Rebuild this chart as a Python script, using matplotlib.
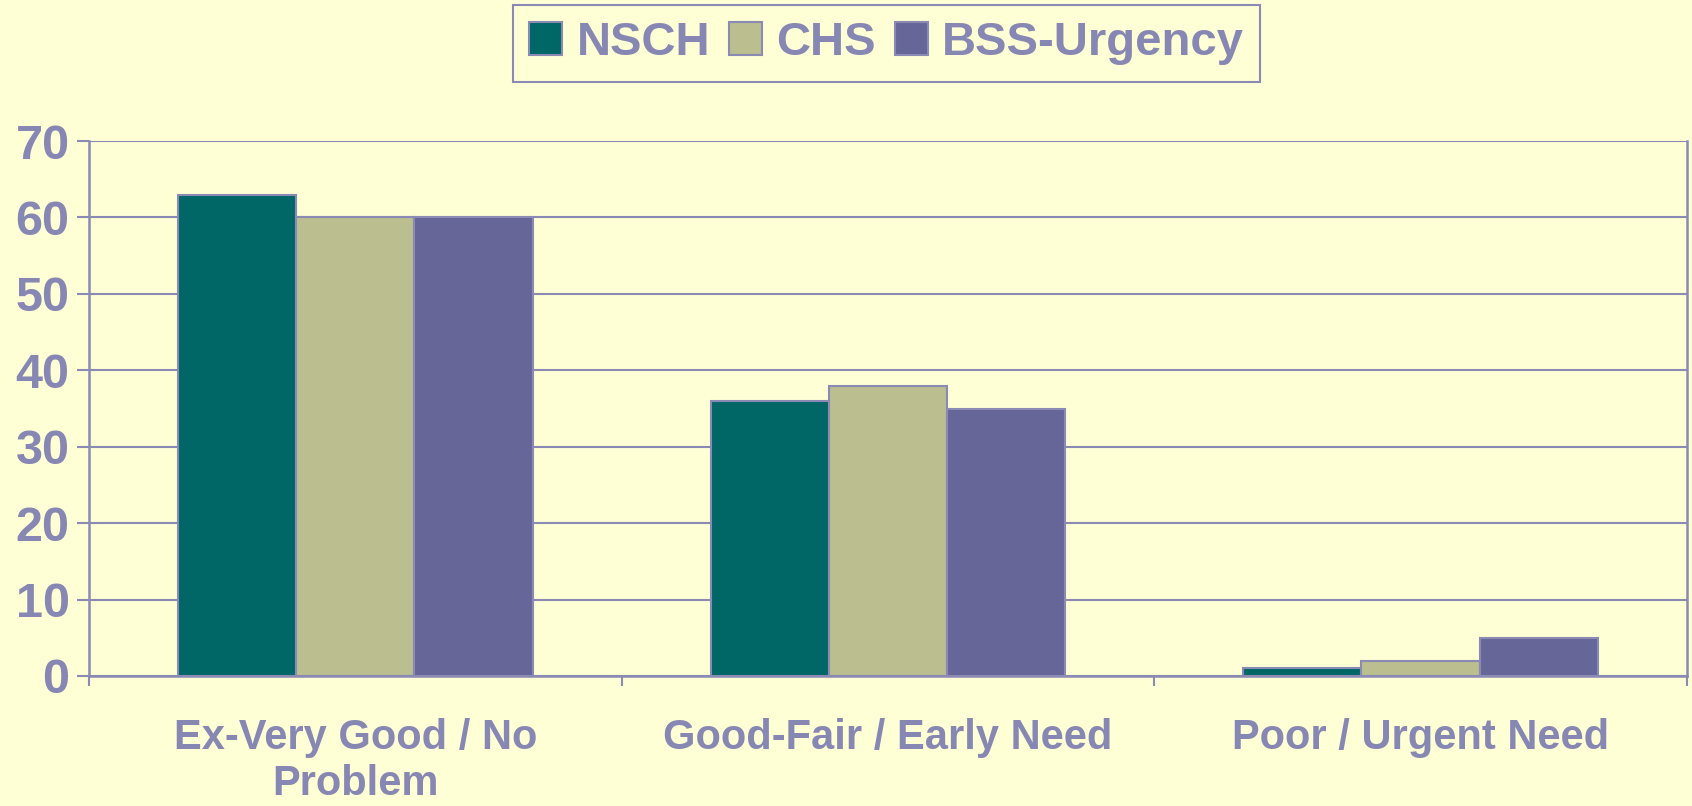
import matplotlib.pyplot as plt
import numpy as np

categories = ["Ex-Very Good / No\nProblem", "Good-Fair / Early Need", "Poor / Urgent Need"]
series = ["NSCH", "CHS", "BSS-Urgency"]
nsch = [63, 36, 1]
chs = [60, 38, 2]
bss = [60, 35, 5]
yticks = [0, 10, 20, 30, 40, 50, 60, 70]

colors = ["#006666", "#BBBE8F", "#666699"]
edge = "#8A8AB4"
text_col = "#8787B3"
bg = "#FFFFD6"

plt.rcParams['font.family'] = ['Liberation Sans', 'DejaVu Sans']
plt.rcParams['font.weight'] = 'bold'

fig = plt.figure(figsize=(16.92, 8.06), dpi=100, facecolor=bg)
ax = fig.add_axes([0.0526, 0.1613, 0.9444, 0.6637])
ax.set_facecolor(bg)

x = np.arange(len(categories))
w = 0.222
for i, (name, vals) in enumerate(zip(series, [nsch, chs, bss])):
    ax.bar(x + (i - 1) * w, vals, w, color=colors[i], edgecolor=edge,
           linewidth=1.5, label=name, zorder=3)

ax.set_xlim(-0.5, 2.5)
ax.set_ylim(0, 70)
ax.set_yticks(yticks)
ax.yaxis.grid(True, color=edge, linewidth=1.5, zorder=0)
ax.set_axisbelow(True)

# category labels sit between boundary ticks
ax.set_xticks([-0.5, 0.5, 1.5, 2.5])
ax.set_xticklabels([])
ax.set_xticks(x, minor=True)
ax.set_xticklabels(categories, minor=True, fontsize=30, color=text_col,
                   fontweight='bold', linespacing=1.22)
ax.tick_params(axis='x', which='minor', length=0, pad=30)
ax.tick_params(axis='x', which='major', length=7, width=1.5, color=edge)
ax.tick_params(axis='y', length=9, width=1.5, color=edge, labelsize=35,
               labelcolor=text_col, pad=5)
for t in ax.get_yticklabels():
    t.set_fontweight('bold')

for s in ['left', 'right', 'bottom']:
    ax.spines[s].set_color(edge)
    ax.spines[s].set_linewidth(1.8)
ax.spines['top'].set_visible(False)

leg = fig.legend(loc='upper center', bbox_to_anchor=(0.524, 0.994), ncol=3,
                 frameon=True, fancybox=False, facecolor=bg, edgecolor=edge,
                 framealpha=1, prop={'size': 34, 'weight': 'bold'},
                 handlelength=0.7, handleheight=0.7, handletextpad=0.3,
                 columnspacing=0.4, borderpad=0.35, borderaxespad=0)
leg.get_frame().set_linewidth(1.5)
for t in leg.get_texts():
    t.set_color(text_col)

fig.savefig("out.png", dpi=100, facecolor=bg)
